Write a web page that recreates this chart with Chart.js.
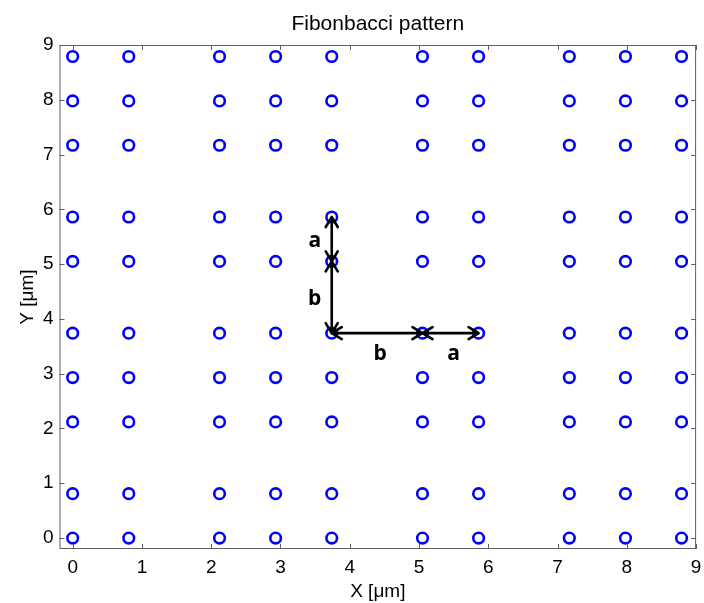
<!DOCTYPE html>
<html>
<head>
<meta charset="utf-8">
<title>Fibonbacci pattern</title>
<script src="https://cdn.jsdelivr.net/npm/chart.js@4.4.1/dist/chart.umd.min.js"></script>
<style>
  html, body { margin: 0; padding: 0; background: #ffffff; }
  #wrap { width: 704px; height: 603px; }
</style>
</head>
<body>
<div id="wrap"><canvas id="fibChart" width="704" height="603"></canvas></div>
<script>
'use strict';

// lattice positions (µm)
const xPositions = [0, 0.81, 2.12, 2.93, 3.74, 5.05, 5.86, 7.17, 7.98, 8.79];
const yPositions = [0, 0.81, 2.12, 2.93, 3.74, 5.05, 5.86, 7.17, 7.98, 8.79];

// tick labels
const xTicks = [0, 1, 2, 3, 4, 5, 6, 7, 8, 9];
const yTicks = [0, 1, 2, 3, 4, 5, 6, 7, 8, 9];

// arrows a / b (start x, start y, end x, end y)
const arrowStarts = [[3.74, 3.74], [3.74, 5.05], [3.74, 3.74], [5.05, 3.74]];
const arrowEnds   = [[3.74, 5.05], [3.74, 5.86], [5.05, 3.74], [5.86, 3.74]];
const arrowLabels = ['b', 'a', 'b', 'a'];

const chartTitle = 'Fibonbacci pattern';

const points = [];
yPositions.forEach(y => xPositions.forEach(x => points.push({ x, y })));

const AXIS_COLOR = '#5f5f5f';
const TEXT_FONT = 'Liberation Sans, Arial, sans-serif';

// box + inward tick marks + title centred over the axes, MATLAB style
const boxPlugin = {
    id: 'boxPlugin',
    afterDatasetsDraw(chart) {
        const { ctx, chartArea: a, scales } = chart;
        const len = 5;
        ctx.save();
        ctx.strokeStyle = AXIS_COLOR;
        ctx.lineWidth = 1;
        ctx.strokeRect(a.left + 0.5, a.top + 0.5, a.right - a.left - 1, a.bottom - a.top - 1);
        ctx.beginPath();
        xTicks.forEach(v => {
            const px = Math.round(scales.x.getPixelForValue(v)) + 0.5;
            ctx.moveTo(px, a.bottom); ctx.lineTo(px, a.bottom - len);
            ctx.moveTo(px, a.top); ctx.lineTo(px, a.top + len);
        });
        yTicks.forEach(v => {
            const py = Math.round(scales.y.getPixelForValue(v)) + 0.5;
            ctx.moveTo(a.left, py); ctx.lineTo(a.left + len, py);
            ctx.moveTo(a.right, py); ctx.lineTo(a.right - len, py);
        });
        ctx.stroke();

        ctx.fillStyle = '#000';
        ctx.font = '21px ' + TEXT_FONT;
        ctx.textAlign = 'center';
        ctx.textBaseline = 'alphabetic';
        ctx.fillText(chartTitle, (a.left + a.right) / 2, 30);
        ctx.restore();
    }
};

// double headed arrows with bold labels
const arrowPlugin = {
    id: 'arrowPlugin',
    afterDatasetsDraw(chart) {
        const { ctx, scales } = chart;
        const head = 10, half = 6;
        ctx.save();
        ctx.strokeStyle = '#000';
        ctx.fillStyle = '#000';
        ctx.lineWidth = 2.6;
        ctx.lineCap = 'round';
        ctx.lineJoin = 'round';
        ctx.font = 'bold 21px "Open Sans", sans-serif';
        ctx.textAlign = 'center';
        ctx.textBaseline = 'middle';

        arrowStarts.forEach((s, i) => {
            const e = arrowEnds[i];
            const x1 = scales.x.getPixelForValue(s[0]), y1 = scales.y.getPixelForValue(s[1]);
            const x2 = scales.x.getPixelForValue(e[0]), y2 = scales.y.getPixelForValue(e[1]);
            const ang = Math.atan2(y2 - y1, x2 - x1);
            const ux = Math.cos(ang), uy = Math.sin(ang);

            ctx.beginPath();
            ctx.moveTo(x1, y1); ctx.lineTo(x2, y2);
            // head at end
            ctx.moveTo(x2 - ux * head - uy * half, y2 - uy * head + ux * half);
            ctx.lineTo(x2, y2);
            ctx.lineTo(x2 - ux * head + uy * half, y2 - uy * head - ux * half);
            // head at start
            ctx.moveTo(x1 + ux * head - uy * half, y1 + uy * head + ux * half);
            ctx.lineTo(x1, y1);
            ctx.lineTo(x1 + ux * head + uy * half, y1 + uy * head - ux * half);
            ctx.stroke();

            const mx = (x1 + x2) / 2, my = (y1 + y2) / 2;
            if (Math.abs(x2 - x1) < 1) {
                ctx.fillText(arrowLabels[i], mx - 17, my + 2);
            } else {
                ctx.fillText(arrowLabels[i], mx + 3, my + 21);
            }
        });
        ctx.restore();
    }
};

const ctx = document.getElementById('fibChart').getContext('2d');
new Chart(ctx, {
    type: 'scatter',
    data: {
        datasets: [{
            data: points,
            pointStyle: 'circle',
            pointRadius: 5.3,
            pointHoverRadius: 5.3,
            borderWidth: 2.6,
            borderColor: '#0000ff',
            backgroundColor: 'rgba(0,0,0,0)'
        }]
    },
    options: {
        responsive: false,
        animation: false,
        events: [],
        layout: { padding: { top: 45, right: 5, bottom: 0, left: 0 } },
        plugins: {
            legend: { display: false },
            tooltip: { enabled: false },
            title: { display: false }
        },
        scales: {
            x: {
                type: 'linear',
                min: -0.19,
                max: 9,
                afterBuildTicks: s => { s.ticks = xTicks.map(v => ({ value: v })); },
                afterFit: s => { s.height = 54; s.paddingLeft = 0; s.paddingRight = 0; },
                grid: { display: false, drawTicks: false },
                border: { display: false },
                ticks: {
                    color: '#000',
                    padding: 7,
                    maxRotation: 0,
                    font: { family: TEXT_FONT, size: 19 }
                },
                title: {
                    display: true,
                    text: 'X [\u03bcm]',
                    color: '#000',
                    font: { family: TEXT_FONT, size: 19, lineHeight: 1.2 },
                    padding: { top: 0, bottom: 0 }
                }
            },
            y: {
                type: 'linear',
                min: -0.2,
                max: 9,
                afterBuildTicks: s => { s.ticks = yTicks.map(v => ({ value: v })); },
                afterFit: s => { s.width = 59.5; s.paddingTop = 0; s.paddingBottom = 0; },
                grid: { display: false, drawTicks: false },
                border: { display: false },
                ticks: {
                    color: '#000',
                    padding: 6,
                    font: { family: TEXT_FONT, size: 19 }
                },
                title: {
                    display: true,
                    text: 'Y [\u03bcm]',
                    color: '#000',
                    font: { family: TEXT_FONT, size: 19, lineHeight: 1.2 },
                    padding: { top: 16, bottom: 0 }
                }
            }
        }
    },
    plugins: [boxPlugin, arrowPlugin]
});
</script>
</body>
</html>
